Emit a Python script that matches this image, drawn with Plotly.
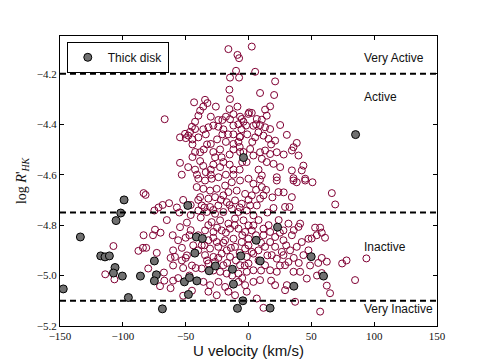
import plotly.graph_objects as go

# Thin disk (open circles): U velocity (km/s), log R'HK
thin_u = [
    # upper-left core
    -16, -8.8, -7.5, -9.9, -14.7, -7.5, -15.2, -14.7, -43.3, -34.6, -32.7, -26, -38.5, -36, -39.9, -66.7,
    -15.2, -12, -8.8, -14.7, -12, -8, -24, -20.8, -28, -31.9, -24, -20, -42.5, -36, -50.5, -46.5,
    -54.5, -39.9, -34, -44.6, -49.9, -20.8, -16.3, -12, -7, -30, -18, -12, -44.6, -38.5, -35.6, -28,
    -22.6, -12, -7, -26.6, -21.4, -15, -44.6, -54.5, -38.5, -36, -28, -22.6, -15, -12, -7, -53.1,
    -42.5, -41, -34, -30, -18, -12, -5.3, -0.1, -42.5, -42.5, -47.9,
    # upper centre strip
    0.5, -6.7, -1.9, -5.6, -1, -6.7, -4, -6.7, -1.5,
    # upper right of centre
    2.6, 5.3, 21.2, 9.2, 20.4, 17.2, 13.2, 6.6, 10.6, 14.5, 2.6, 3.9, 9.2, 13.2, 17.2, 7.9,
    11.9, 15.9, 5.3, 25.2, 30.5, 21.2, 1.3, 3.9, 9.2, 13.2, 17.2, 22.5, 10.6, 14.5, 19.9, 25.2,
    35.8, 38.4, 34.5, 39.8, 34.5, 42.4, 43.7, 10.6, 22.5, 35.8, 45.1,
    # lower centre-left
    -39.9, -34.6, -29.3, -23.9, -41.2, -35.9, -30.6, -25.3, -18.6, -13.3, -6.7, 0,
    -38.5, -31.9, -26.6, -20, -16, -9.4, -2.7, 2.6, -37.2, -30.6, -24, -17.3, -10.7, -5.4, 1.3,
    -39.9, -33.2, -26.6, -20, -13.3, -8, -1.4, 3.9, -29.3, -22.6, -16, -10.7, -4, 0,
    -34.6, -27.9, -21.3, -14.7, -8, -2.7, 2.6, -31.9, -25.3, -18.6, -12, -5.4, 0,
    -37.2, -30.6, -24, -17.3, -10.7, -2.7, 2.6, -34.6, -27.9, -21.3, -14.7, -1.4,
    -31.9, -26.6, -20, -6.7, 0, -37.2, -22.6, -17.3, -8, -1.4, 3.9,
    -35.9, -30.6, -23.9, -18.6, -8, -2.7, -31.9, -25.3, -16, -10.7, -1.4,
    # lower centre-right
    9.2, 10.6, 3.9, 22.5, 23.8, 35.8, 38.4, 45.1, 34.5, 29.1, 32.6, 19.9, 9.2, 11.9, 6.6,
    3.9, 11.9, 17.2, 11.9, 21.2, 27.8, 31.8, 41.1, 39.8, 34.5, 27.8, 17.2, 21.2, 13.2, 7.9, 3.9,
    26.5, 33.1, 38.4, 42.4, 47.7, 43.7, 18.5, 22.5, 27.8, 31.8, 13.2, 17.2, 22.5, 29.1, 35.8, 41.1,
    46.4, 3.9, 9.2, 30.5, 21.2, 29.1, 37.1, 11.9, 6.6,
    # left wing
    -83.5, -81.9, -63.2, -74.9, -71.6, -57, -52, -46, -46, -54.5, -49, -46, -83.5, -74.4, -70,
    -60.3, -50, -107.5, -87.6, -84, -81.4, -60, -53, -49, -44, -58.5, -53, -79.8, -67.3, -60,
    -52, -45, -114, -106.7, -60, -56, -70.4, -67, -45, -52, -68.3, -76, -73,
    # right wing
    66.3, 69, 53, 57, 58.3, 50.3, 54.3, 60.9, 58.3, 62.3, 74.5, 78, 93.8, 49, 54.5, 58.3,
    84.8, 62.3, 64.9, 57, 50.9, 47.7, 55.5,
    # additional core stars
    -40, -35, -28, -22, -15, -7, 0, -38, -32, -25, -18, -11, -5, -40, -35, -28, -20, -14, -7, 0,
    -40, -33, -24, -17, -10, -3, -42, -28, -13, -5,
    6, 14, 19, 28, 15, 24, 8, 16, 6, 25, 36, 10, 30, 8, 15, 36, 25, 10, 40, 18,
    -47, -50, -56, -62, -47, -55, -65, -62,
    -30, -18, -4, 6, -25, -8, 3, -45, -33, -20, -5, 8, -48, -30, 28, 18,
]
thin_logr = [
    -4.102, -4.125, -4.138, -4.188, -4.215, -4.215, -4.263, -4.300, -4.313, -4.303, -4.316, -4.330, -4.346, -4.330, -4.366, -4.380,
    -4.340, -4.360, -4.330, -4.380, -4.405, -4.400, -4.383, -4.383, -4.405, -4.412, -4.410, -4.420, -4.419, -4.420, -4.438, -4.430,
    -4.452, -4.452, -4.440, -4.460, -4.455, -4.440, -4.440, -4.440, -4.450, -4.478, -4.470, -4.478, -4.480, -4.511, -4.500, -4.510,
    -4.500, -4.500, -4.490, -4.531, -4.531, -4.520, -4.530, -4.553, -4.546, -4.565, -4.560, -4.570, -4.560, -4.580, -4.580, -4.600,
    -4.580, -4.600, -4.590, -4.600, -4.600, -4.600, -4.379, -4.359, -4.390, -4.510, -4.445,
    -4.353, -4.370, -4.405, -4.420, -4.440, -4.450, -4.510, -4.510, -4.550,
    -4.092, -4.192, -4.230, -4.276, -4.284, -4.329, -4.342, -4.379, -4.382, -4.366, -4.355, -4.406, -4.403, -4.412, -4.419, -4.432,
    -4.445, -4.458, -4.452, -4.403, -4.442, -4.465, -4.498, -4.524, -4.511, -4.504, -4.518, -4.511, -4.537, -4.550, -4.557, -4.570,
    -4.491, -4.474, -4.504, -4.524, -4.583, -4.583, -4.564, -4.603, -4.610, -4.614, -4.616,
    -4.616, -4.623, -4.616, -4.610, -4.649, -4.656, -4.663, -4.656, -4.643, -4.630, -4.623, -4.616,
    -4.689, -4.695, -4.689, -4.682, -4.669, -4.663, -4.676, -4.682, -4.722, -4.728, -4.722, -4.709, -4.702, -4.715, -4.722,
    -4.742, -4.748, -4.755, -4.748, -4.735, -4.748, -4.742, -4.761, -4.788, -4.781, -4.794, -4.774, -4.781, -4.801,
    -4.821, -4.827, -4.821, -4.814, -4.814, -4.827, -4.821, -4.860, -4.867, -4.860, -4.854, -4.867, -4.854,
    -4.880, -4.893, -4.886, -4.900, -4.886, -4.893, -4.906, -4.919, -4.926, -4.913, -4.926, -4.926,
    -4.952, -4.946, -4.959, -4.959, -4.952, -4.972, -4.985, -4.992, -4.992, -4.985, -4.979,
    -5.025, -5.038, -5.025, -5.045, -5.025, -5.038, -5.064, -5.078, -5.064, -5.078, -5.064,
    -4.619, -4.649, -4.636, -4.623, -4.669, -4.623, -4.630, -4.623, -4.689, -4.728, -4.728, -4.732, -4.695, -4.682, -4.722,
    -4.801, -4.814, -4.827, -4.840, -4.847, -4.821, -4.794, -4.794, -4.807, -4.840, -4.860, -4.867, -4.886, -4.886, -4.900, -4.913,
    -4.906, -4.900, -4.886, -4.867, -4.854, -4.919, -4.919, -4.933, -4.919, -4.946, -4.959, -4.979, -4.985, -4.959, -4.985, -4.985,
    -5.012, -5.025, -5.018, -5.038, -5.038, -5.058, -5.104, -5.128, -5.091,
    -4.673, -4.680, -4.713, -4.742, -4.730, -4.730, -4.700, -4.720, -4.760, -4.808, -4.790, -4.820, -4.840, -4.818, -4.830,
    -4.840, -4.850, -4.883, -4.902, -4.890, -4.890, -4.900, -4.890, -4.920, -4.880, -4.926, -4.940, -4.972, -4.988, -4.960,
    -4.970, -4.960, -4.995, -5.015, -5.020, -5.010, -5.042, -5.020, -5.060, -5.080, -4.720, -4.840, -4.910,
    -4.673, -4.718, -4.810, -4.810, -4.830, -4.853, -4.840, -4.850, -4.930, -4.945, -4.952, -4.940, -4.932, -4.960, -5.000, -4.990,
    -5.018, -5.040, -5.070, -5.143, -4.630, -4.900, -4.950,
    -4.70, -4.73, -4.74, -4.70, -4.72, -4.73, -4.70, -4.77, -4.80, -4.81, -4.83, -4.80, -4.84, -4.84, -4.88, -4.85, -4.87, -4.89, -4.91, -4.88,
    -4.90, -4.94, -4.93, -4.95, -4.94, -4.96, -4.97, -4.98, -5.00, -5.01,
    -4.66, -4.66, -4.69, -4.67, -4.75, -4.78, -4.78, -4.80, -4.84, -4.83, -4.82, -4.87, -4.88, -4.94, -4.92, -4.93, -4.96, -4.98, -4.95, -5.02,
    -4.84, -4.93, -4.86, -4.93, -5.00, -4.75, -4.78, -5.05,
    -4.37, -4.37, -4.39, -4.40, -4.46, -4.47, -4.47, -4.41, -4.48, -4.55, -4.55, -4.58, -4.57, -4.58, -4.52, -4.48,
]

# Thick disk (filled grey)
thick_u = [-147.4, -133.8, -117.6, -114.2, -110.7, -106.2, -107.5, -100.4, -99, -101.7, -105.4, -95.6,
           -86, -74.9, -73.3, -74.9, -68.5, -51, -47, -47.8, -48.3, -41.5, -36.7, -42.7, -41.1, -31.3,
           -26.3, -12.8, -12, -8.8, -6.1, -4.5, -4, 85.2, 23.1, 6.1, 9.3, 49.9, 59.7, 36.1, 17.2]
thick_logr = [-5.053, -4.847, -4.922, -4.926, -4.922, -4.968, -4.990, -5.002, -4.700, -4.752, -4.782, -5.087,
              -5.002, -4.942, -4.997, -5.021, -5.132, -5.025, -5.008, -5.075, -4.722, -4.847, -4.853, -4.911, -5.021, -4.981,
              -4.962, -4.975, -5.034, -5.130, -4.922, -5.100, -4.532, -4.441, -4.808, -4.860, -4.942, -4.925, -5.002, -5.042, -5.129]

levels = [-4.2, -4.75, -5.1]
level_names = ["Very Active", "Active", "Inactive", "Very Inactive"]
level_label_y = [-4.138, -4.29, -4.887, -5.134]

fig = go.Figure()
fig.add_trace(go.Scatter(
    x=thin_u, y=thin_logr, mode="markers", showlegend=False,
    marker=dict(symbol="circle-open", size=7, color="#800033", line=dict(width=1)),
))
fig.add_trace(go.Scatter(
    x=thick_u, y=thick_logr, mode="markers", name="Thick disk",
    marker=dict(symbol="circle", size=8, color="#707070", line=dict(width=1, color="black")),
))

for lv in levels:
    fig.add_shape(type="line", xref="paper", x0=0, x1=1, yref="y", y0=lv, y1=lv,
                  line=dict(color="black", width=2, dash="6px,4px"))

for name, ly in zip(level_names, level_label_y):
    fig.add_annotation(x=90, y=ly, text=name, showarrow=False, xanchor="left", yanchor="middle",
                       font=dict(family="Liberation Sans, Arial", size=12, color="#111"))

axis_common = dict(showline=True, linecolor="black", linewidth=1, mirror="allticks",
                   ticks="inside", ticklen=4, tickcolor="black", showgrid=False, zeroline=False,
                   automargin=False,
                   tickfont=dict(family="Liberation Serif, DejaVu Serif", size=11, color="#111"))

fig.update_layout(
    width=477, height=355,
    margin=dict(l=52, r=48, t=28, b=37),
    paper_bgcolor="white", plot_bgcolor="white",
    xaxis=dict(range=[-150, 150], tickvals=[-150, -100, -50, 0, 50, 100, 150],
               title=dict(text="U velocity (km/s)", standoff=2,
                          font=dict(family="Liberation Sans, Arial", size=15, color="#111")),
               **axis_common),
    yaxis=dict(range=[-5.2, -4.05], tickvals=[-5.2, -5.0, -4.8, -4.6, -4.4, -4.2], tickformat=".1f",
               title=dict(text="log <i>R</i>'<sub><i>HK</i></sub>", standoff=6,
                          font=dict(family="Liberation Serif, DejaVu Serif", size=14, color="#111")),
               **axis_common),
    legend=dict(x=0.018, y=0.98, xanchor="left", yanchor="top", bgcolor="white",
                bordercolor="black", borderwidth=1,
                font=dict(family="Liberation Sans, Arial", size=12, color="#111")),
)

fig.write_html("out.html")
